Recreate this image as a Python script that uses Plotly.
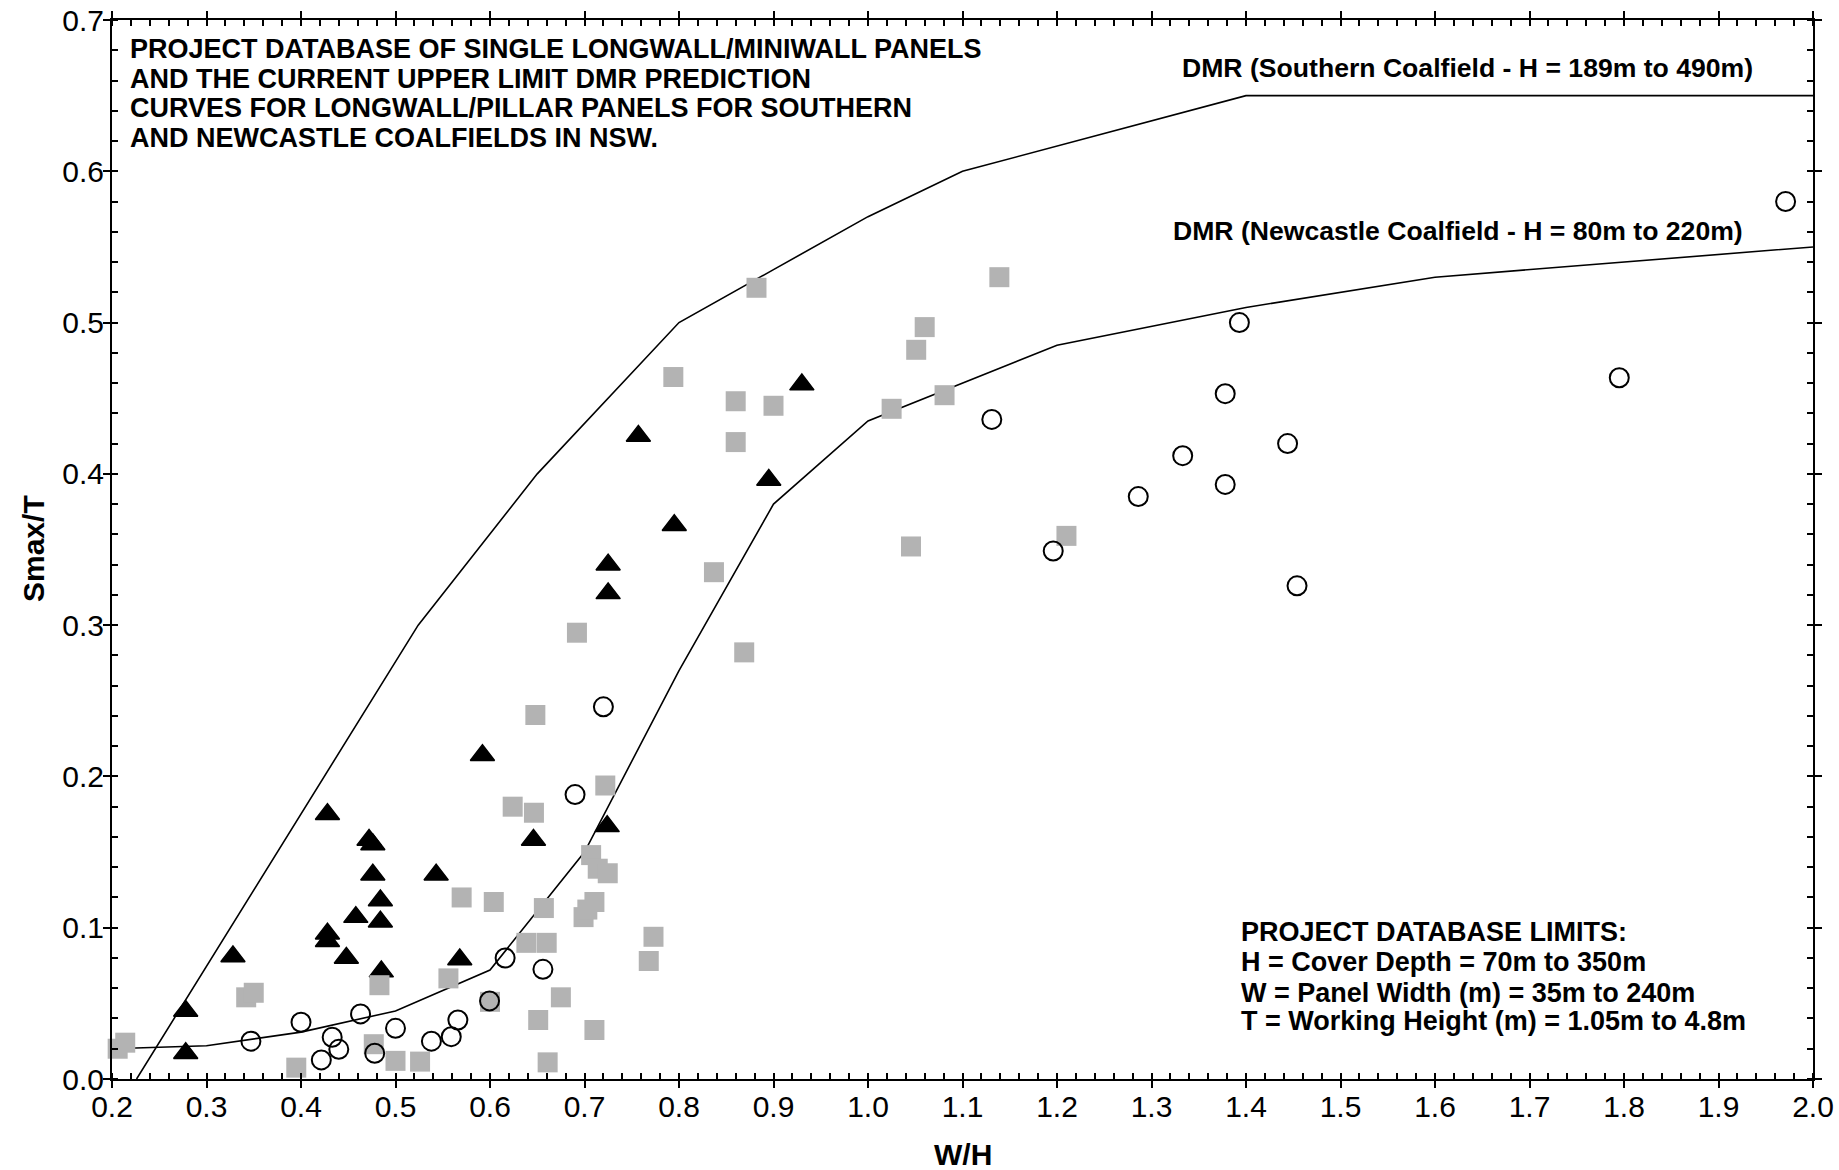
import plotly.graph_objects as go

# ---------------- data ----------------
south_x = [0.226, 0.524, 0.65, 0.8, 0.9, 1.0, 1.1, 1.4, 2.0]
south_y = [0.0, 0.30, 0.40, 0.50, 0.535, 0.57, 0.60, 0.65, 0.65]

newc_x = [0.2, 0.3, 0.4, 0.5, 0.6, 0.7, 0.8, 0.9, 1.0, 1.1, 1.2, 1.4, 1.6, 2.0]
newc_y = [0.020, 0.022, 0.031, 0.045, 0.072, 0.150, 0.270, 0.380, 0.435, 0.46, 0.485, 0.51, 0.53, 0.55]

tri_x = [0.278, 0.278, 0.328, 0.428, 0.428, 0.428, 0.448, 0.458, 0.472, 0.476, 0.476, 0.484, 0.484,
         0.485, 0.543, 0.568, 0.592, 0.646, 0.724, 0.725, 0.725, 0.757, 0.795, 0.895, 0.930]
tri_y = [0.045, 0.017, 0.081, 0.175, 0.096, 0.091, 0.080, 0.107, 0.158, 0.155, 0.135, 0.118, 0.104,
         0.071, 0.135, 0.079, 0.214, 0.158, 0.167, 0.340, 0.321, 0.425, 0.366, 0.396, 0.459]

sq_x = [0.206, 0.214, 0.342, 0.350, 0.395, 0.477, 0.483, 0.500, 0.526, 0.556, 0.570, 0.604, 0.600,
        0.624, 0.6465, 0.648, 0.6385, 0.660, 0.657, 0.651, 0.661, 0.675, 0.692, 0.699, 0.703, 0.7105,
        0.707, 0.714, 0.7246, 0.722, 0.7105, 0.768, 0.773, 0.794, 0.837, 0.860, 0.860, 0.869, 0.882,
        0.900, 1.025, 1.0455, 1.051, 1.060, 1.081, 1.139, 1.210]
sq_y = [0.020, 0.024, 0.054, 0.057, 0.0075, 0.023, 0.062, 0.012, 0.0115, 0.0665, 0.120, 0.117, 0.051,
        0.180, 0.176, 0.2406, 0.090, 0.090, 0.113, 0.039, 0.011, 0.054, 0.295, 0.107, 0.112, 0.117,
        0.148, 0.139, 0.136, 0.194, 0.0324, 0.078, 0.094, 0.464, 0.335, 0.448, 0.421, 0.282, 0.523,
        0.445, 0.443, 0.352, 0.482, 0.497, 0.452, 0.530, 0.359]

circ_x = [0.347, 0.400, 0.4215, 0.433, 0.440, 0.463, 0.478, 0.500, 0.538, 0.559, 0.566, 0.5995, 0.616,
          0.656, 0.690, 0.720, 1.131, 1.196, 1.286, 1.333, 1.378, 1.378, 1.393, 1.444, 1.454, 1.795, 1.971]
circ_y = [0.025, 0.0375, 0.0126, 0.0276, 0.0196, 0.043, 0.017, 0.0335, 0.025, 0.028, 0.039, 0.0516, 0.080,
          0.0725, 0.188, 0.246, 0.436, 0.349, 0.385, 0.412, 0.453, 0.393, 0.500, 0.420, 0.326, 0.4635, 0.580]

x_title = "W/H"
y_title = "Smax/T"
note_top = ["PROJECT DATABASE OF SINGLE LONGWALL/MINIWALL PANELS",
            "AND THE CURRENT UPPER LIMIT DMR PREDICTION",
            "CURVES FOR LONGWALL/PILLAR PANELS FOR SOUTHERN",
            "AND NEWCASTLE COALFIELDS IN NSW."]
note_limits = ["PROJECT DATABASE LIMITS:",
               "H = Cover Depth = 70m to 350m",
               "W = Panel Width (m) = 35m to 240m",
               "T = Working Height (m) = 1.05m to 4.8m"]
label_south = "DMR (Southern Coalfield - H = 189m to 490m)"
label_newc = "DMR (Newcastle Coalfield - H = 80m to 220m)"

# ---------------- figure ----------------
W, H = 1839, 1170
ML, MR, MT, MB = 112, 26, 20, 91
PW, PH = W - ML - MR, H - MT - MB
FONT = "Liberation Sans, Arial, Helvetica, sans-serif"


def px(X):
    return (X - ML) / PW


def py(Y):
    return (MT + PH - Y) / PH


fig = go.Figure()
fig.add_trace(go.Scatter(x=south_x, y=south_y, mode="lines",
                         line=dict(color="black", width=1.6), showlegend=False))
fig.add_trace(go.Scatter(x=newc_x, y=newc_y, mode="lines",
                         line=dict(color="black", width=1.6), showlegend=False))
fig.add_trace(go.Scatter(x=tri_x, y=tri_y, mode="markers", cliponaxis=False,
                         marker=dict(symbol="triangle-up", size=21, color="black",
                                     line=dict(color="black", width=1.5)), showlegend=False))
fig.add_trace(go.Scatter(x=sq_x, y=sq_y, mode="markers", cliponaxis=False,
                         marker=dict(symbol="square", size=20, color="#b3b3b3",
                                     line=dict(width=0)), showlegend=False))
fig.add_trace(go.Scatter(x=circ_x, y=circ_y, mode="markers", cliponaxis=False,
                         marker=dict(symbol="circle-open", size=19, color="black",
                                     line=dict(color="black", width=2)), showlegend=False))

axis_common = dict(
    ticks="outside", ticklen=7, tickwidth=2, tickcolor="black",
    showline=True, linewidth=2, linecolor="black", mirror="allticks",
    showgrid=False, zeroline=False, tickformat=".1f", ticklabelstandoff=-7,
    automargin=False,
    tickfont=dict(family=FONT, size=30, color="black"),
)
fig.update_xaxes(range=[0.2, 2.0], tick0=0.2, dtick=0.1,
                 minor=dict(dtick=0.02, ticks="inside", ticklen=6, tickwidth=1.5,
                            tickcolor="black", showgrid=False),
                 **axis_common)
fig.update_yaxes(range=[0.0, 0.7], tick0=0.0, dtick=0.1,
                 minor=dict(dtick=0.02, ticks="inside", ticklen=6, tickwidth=1.5,
                            tickcolor="black", showgrid=False),
                 **axis_common)

annots = []
bold = dict(family=FONT, size=27, color="black", weight="bold")
bold_lbl = dict(family=FONT, size=26.6, color="black", weight="bold")
for txt, yc in zip(note_top, [49.5, 78.5, 108.3, 137.8]):
    annots.append(dict(text=txt, x=px(128), y=py(yc), xref="paper", yref="paper",
                       xanchor="left", yanchor="middle", showarrow=False, font=bold))
for txt, yc in zip(note_limits, [931.5, 962.0, 992.5, 1021.0]):
    annots.append(dict(text=txt, x=px(1239), y=py(yc), xref="paper", yref="paper",
                       xanchor="left", yanchor="middle", showarrow=False, font=bold))
annots.append(dict(text=label_south, x=px(1467), y=py(68.0), xref="paper", yref="paper",
                   xanchor="center", yanchor="middle", showarrow=False, font=bold_lbl))
annots.append(dict(text=label_newc, x=px(1458), y=py(231.0), xref="paper", yref="paper",
                   xanchor="center", yanchor="middle", showarrow=False, font=bold_lbl))
annots.append(dict(text=x_title, x=px(963), y=py(1154), xref="paper", yref="paper",
                   xanchor="center", yanchor="middle", showarrow=False,
                   font=dict(family=FONT, size=30, color="black", weight="bold")))
annots.append(dict(text=y_title, x=px(33), y=py(549), xref="paper", yref="paper",
                   xanchor="center", yanchor="middle", showarrow=False, textangle=-90,
                   font=dict(family=FONT, size=30, color="black", weight="bold")))

fig.update_layout(
    width=W, height=H, autosize=False,
    margin=dict(l=ML, r=MR, t=MT, b=MB, pad=0),
    plot_bgcolor="white", paper_bgcolor="white",
    annotations=annots, showlegend=False,
)
fig.write_html("out.html")
